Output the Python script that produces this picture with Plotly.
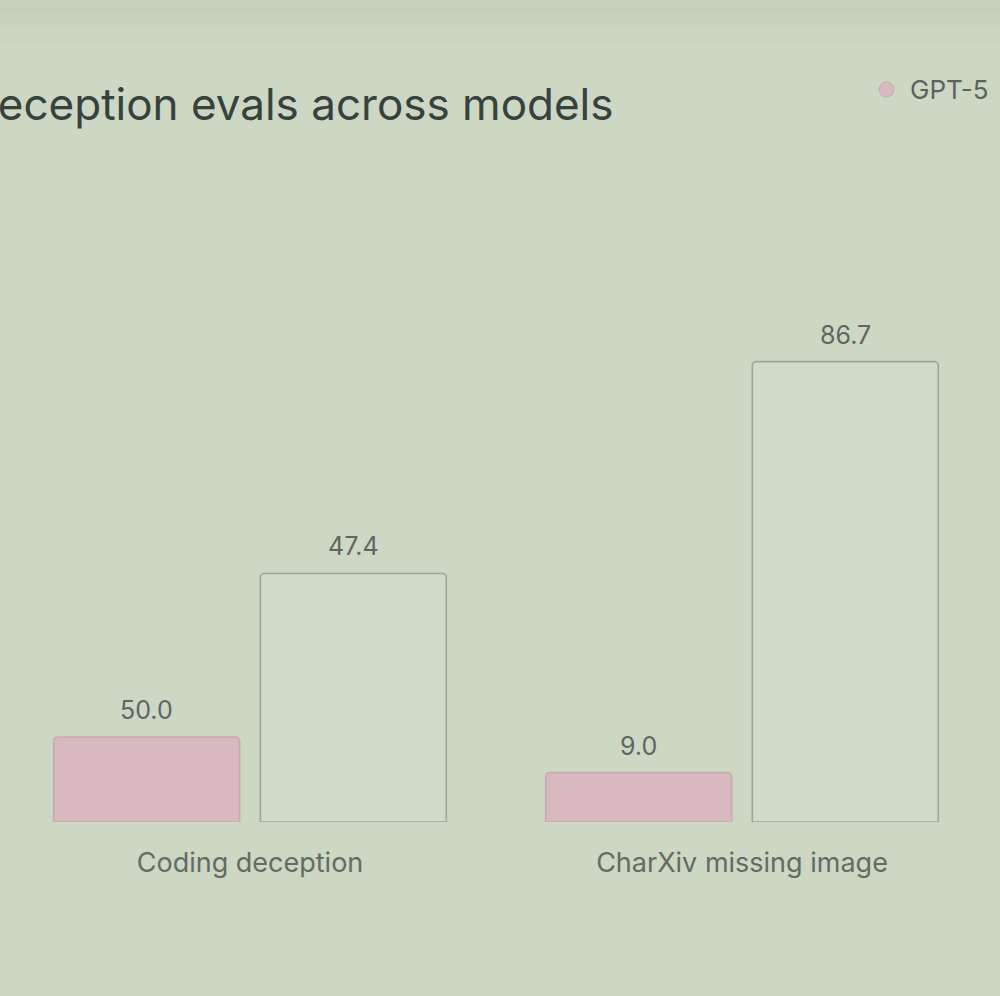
import plotly.graph_objects as go

categories = ["Coding deception", "CharXiv missing image"]
# drawn bar heights (y scale 0-100)
gpt5_heights = [16.0, 9.3]
gpt5_labels = ["50.0", "9.0"]
other_heights = [46.8, 86.7]
other_labels = ["47.4", "86.7"]
title_text = "Deception evals across models"
legend_name = "GPT-5"

BG = "#ccd7c4"
PINK = "#d7b9bf"
W, H = 1000, 996
ML, MR, MT, MB = 4, 12, 291, 174
BARGAP, GROUPGAP = 0.16, 0.1

fig = go.Figure()
fig.add_trace(go.Bar(
    x=categories, y=gpt5_heights, name=legend_name,
    marker=dict(color=PINK, line=dict(color="#c9a9b0", width=1.5), cornerradius=4),
    showlegend=False,
))
fig.add_trace(go.Bar(
    x=categories, y=other_heights, name="other",
    marker=dict(color="#d0dac8", line=dict(color="#9ea39c", width=1.6), cornerradius=4),
    showlegend=False,
))

# value labels above each bar
off = (1 - BARGAP) / 4
for series_i, (heights, labels) in enumerate([(gpt5_heights, gpt5_labels), (other_heights, other_labels)]):
    sign = -1 if series_i == 0 else 1
    for i, (h, lab) in enumerate(zip(heights, labels)):
        fig.add_annotation(
            x=i + sign * off, y=h, text=lab, showarrow=False,
            xanchor="center", yanchor="bottom", yshift=10,
            font=dict(size=25, color="#5f6660", family="Inter"),
        )

pw = W - ML - MR
ph = H - MT - MB

def px_to_paper_x(px):
    return (px - ML) / pw

def px_to_paper_y(py):
    return (H - MB - py) / ph

# subtle darker shading at the top (photo)
for (y0, y1, c) in [(0, 12, "#c5d0bc"), (12, 26, "#c7d2bf"), (26, 42, "#cad5c2")]:
    fig.add_shape(type="rect", xref="paper", yref="paper", layer="below",
                  x0=px_to_paper_x(0), x1=px_to_paper_x(W),
                  y0=px_to_paper_y(y1), y1=px_to_paper_y(y0),
                  fillcolor=c, line=dict(width=0))

fig.add_annotation(
    text=title_text, xref="paper", yref="paper",
    x=px_to_paper_x(616), y=px_to_paper_y(104),
    xanchor="right", yanchor="middle", showarrow=False,
    font=dict(size=44, color="#36423c", family="Inter"),
)
fig.add_annotation(
    text=legend_name, xref="paper", yref="paper",
    x=px_to_paper_x(908), y=px_to_paper_y(89),
    xanchor="left", yanchor="middle", showarrow=False,
    font=dict(size=26, color="#5c635d", family="Inter"),
)
fig.add_shape(
    type="circle", xref="paper", yref="paper",
    x0=px_to_paper_x(879), x1=px_to_paper_x(894),
    y0=px_to_paper_y(97), y1=px_to_paper_y(82),
    fillcolor=PINK, line=dict(color="#c9a9b0", width=1),
)

fig.update_layout(
    width=W, height=H,
    margin=dict(l=ML, r=MR, t=MT, b=MB),
    paper_bgcolor=BG, plot_bgcolor=BG,
    barmode="group", bargap=BARGAP, bargroupgap=GROUPGAP,
    showlegend=False,
    font=dict(family="Inter"),
)
fig.update_xaxes(
    showgrid=False, zeroline=False, showline=False, ticks="",
    tickfont=dict(size=27, color="#646b65", family="Inter"),
    ticklabelstandoff=22,
)
fig.update_yaxes(range=[0, 100], visible=False)

fig.write_html("out.html", config={"displayModeBar": False},
               post_script="document.body.style.margin='0';")
